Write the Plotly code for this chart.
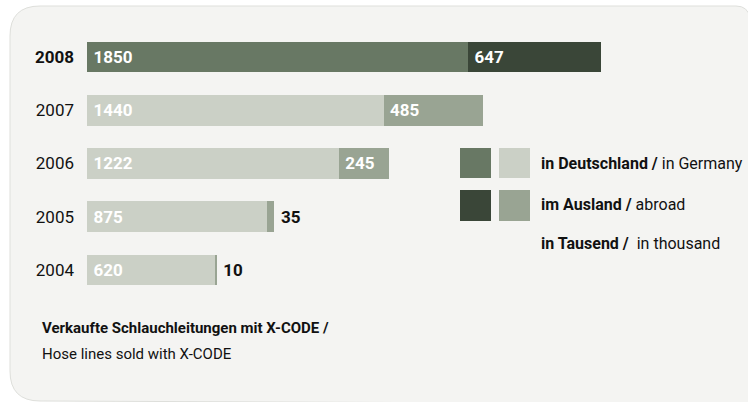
import plotly.graph_objects as go

years = ["2004", "2005", "2006", "2007", "2008"]
germany = [620, 875, 1222, 1440, 1850]
abroad = [10, 35, 245, 485, 647]
year_labels = ["2004", "2005", "2006", "2007", "<b>2008</b>"]

legend_lines = [
    "<b>in Deutschland /</b> in Germany",
    "<b>im Ausland /</b> abroad",
    "<b>in Tausend /</b>  in thousand",
]
foot_lines = [
    "<b>Verkaufte Schlauchleitungen mit X-CODE /</b>",
    "Hose lines sold with X-CODE",
]

FONT = "Liberation Sans Narrow, Roboto, sans-serif"
W, H = 748, 402
ML = 87
PW = W - ML

def xp(px):
    return (px - ML) / PW

def yp(py):
    return 1 - py / H

ger_col = ["#cbd0c6"] * 4 + ["#687864"]
abr_col = ["#99a493"] * 4 + ["#3a4638"]

abr_pos = ["outside", "outside", "inside", "inside", "inside"]
abr_txtcol = ["#111111", "#111111", "white", "white", "white"]

fig = go.Figure()
fig.add_trace(go.Bar(
    y=years, x=germany, orientation="h", marker=dict(color=ger_col, line=dict(width=0)),
    text=[f"<b>\u2009{v}</b>" for v in germany], textposition="inside", insidetextanchor="start",
    textfont=dict(family=FONT, size=17, color="white"), width=0.58, hoverinfo="skip",
    cliponaxis=False,
))
fig.add_trace(go.Bar(
    y=years, x=abroad, orientation="h", marker=dict(color=abr_col, line=dict(width=0)),
    text=[f"<b>\u2009{v}</b>" for v in abroad],
    textposition=abr_pos, insidetextanchor="start",
    textfont=dict(family=FONT, size=17, color=abr_txtcol), width=0.58, hoverinfo="skip",
    cliponaxis=False,
))

shapes = []
pts = [
    ("M", 10, 36), ("Q", 10, 6, 40, 6), ("L", 736, 6), ("Q", 748, 6, 750, 18),
    ("L", 752, 404), ("L", 40, 401), ("Q", 10, 401, 10, 371), ("Z",),
]
path = ""
for p in pts:
    if p[0] == "Z":
        path += " Z"
    elif p[0] == "Q":
        path += f" Q {xp(p[1]):.5f},{yp(p[2]):.5f} {xp(p[3]):.5f},{yp(p[4]):.5f}"
    else:
        path += f" {p[0]} {xp(p[1]):.5f},{yp(p[2]):.5f}"
shapes.append(dict(type="path", path=path.strip(), xref="paper", yref="paper",
                   fillcolor="#f4f4f2", line=dict(color="#dedfdb", width=1), layer="below"))

sw = [(148, 178, "#687864", "#cbd0c6"), (190, 221, "#3a4638", "#99a493")]
for y0, y1, c1, c2 in sw:
    shapes.append(dict(type="rect", xref="paper", yref="paper", x0=xp(460), x1=xp(491),
                       y0=yp(y1), y1=yp(y0), fillcolor=c1, line=dict(width=0)))
    shapes.append(dict(type="rect", xref="paper", yref="paper", x0=xp(499), x1=xp(530),
                       y0=yp(y1), y1=yp(y0), fillcolor=c2, line=dict(width=0)))

annotations = []
for txt, ypix in zip(legend_lines, [164, 205, 243]):
    annotations.append(dict(text=txt, xref="paper", yref="paper", x=xp(539), y=yp(ypix),
                            xanchor="left", yanchor="middle", showarrow=False,
                            font=dict(family=FONT, size=16, color="#111111")))
for txt, ypix in zip(foot_lines, [328, 354]):
    annotations.append(dict(text=txt, xref="paper", yref="paper", x=xp(40), y=yp(ypix),
                            xanchor="left", yanchor="middle", showarrow=False,
                            font=dict(family=FONT, size=15, color="#111111")))

fig.update_layout(
    width=W, height=H, barmode="stack", showlegend=False,
    margin=dict(l=ML, r=0, t=0, b=0),
    paper_bgcolor="white", plot_bgcolor="rgba(0,0,0,0)",
    xaxis=dict(range=[0, PW / (381 / 1850)], visible=False, fixedrange=True),
    yaxis=dict(type="category", categoryorder="array", categoryarray=years,
               range=[-2.48, 5.07], tickvals=years, ticktext=year_labels,
               showgrid=False, zeroline=False, showline=False, ticks="",
               ticklabelstandoff=12, fixedrange=True,
               tickfont=dict(family=FONT, size=17, color="#111111")),
    shapes=shapes, annotations=annotations,
    uniformtext=dict(minsize=14, mode="show"),
    hovermode=False,
)

fig.write_html("out.html", config={"displayModeBar": False, "staticPlot": True},
               post_script="document.body.style.margin='0';")
